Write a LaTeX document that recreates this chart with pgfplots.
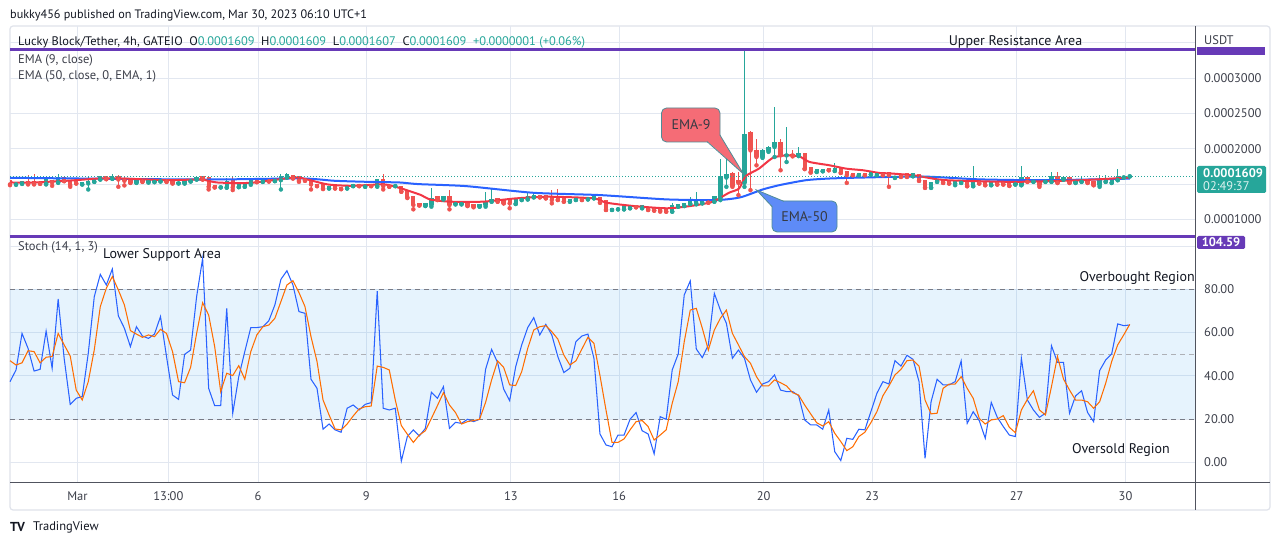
\documentclass[border=0pt]{standalone}
\usepackage{fontspec}
\setmainfont{PT Sans}
\usepackage{pgfplots}
\pgfplotsset{compat=1.18}
\usepackage{pgfplotstable}
\definecolor{tvgreen}{RGB}{38,166,154}
\definecolor{tvred}{RGB}{239,83,80}
\definecolor{emared}{RGB}{242,54,69}
\definecolor{emablue}{RGB}{41,98,255}
\definecolor{dorange}{RGB}{255,109,0}
\definecolor{tvpurple}{RGB}{103,58,183}
\definecolor{gridc}{RGB}{226,231,240}
\definecolor{txt}{RGB}{19,23,34}
\definecolor{axtxt}{RGB}{60,63,74}
\definecolor{bandc}{RGB}{33,150,243}
\definecolor{framec}{RGB}{224,227,235}
\definecolor{sepc}{RGB}{80,83,94}
\definecolor{dashc}{RGB}{120,123,134}
\definecolor{calred}{RGB}{245,108,118}
\definecolor{calblue}{RGB}{94,139,247}
\definecolor{calborder}{RGB}{80,140,150}

\pgfplotstableread{
i bb bt lo hi
2 0.0001493 0.0001521 0.0001488 0.0001530
3 0.0001502 0.0001530 0.0001502 0.0001530
7 0.0001507 0.0001563 0.0001493 0.0001601
9 0.0001521 0.0001592 0.0001516 0.0001639
13 0.0001493 0.0001521 0.0001493 0.0001521
14 0.0001507 0.0001530 0.0001422 0.0001601
15 0.0001530 0.0001563 0.0001530 0.0001563
16 0.0001563 0.0001601 0.0001563 0.0001601
18 0.0001573 0.0001610 0.0001573 0.0001639
22 0.0001516 0.0001554 0.0001516 0.0001554
24 0.0001521 0.0001554 0.0001521 0.0001554
25 0.0001526 0.0001554 0.0001526 0.0001554
26 0.0001535 0.0001563 0.0001535 0.0001563
29 0.0001507 0.0001521 0.0001507 0.0001521
30 0.0001507 0.0001545 0.0001507 0.0001545
31 0.0001535 0.0001563 0.0001535 0.0001563
32 0.0001563 0.0001592 0.0001563 0.0001592
36 0.0001451 0.0001469 0.0001451 0.0001469
37 0.0001451 0.0001530 0.0001446 0.0001578
39 0.0001455 0.0001493 0.0001455 0.0001493
40 0.0001460 0.0001521 0.0001460 0.0001521
41 0.0001507 0.0001545 0.0001488 0.0001563
43 0.0001530 0.0001554 0.0001530 0.0001554
45 0.0001540 0.0001563 0.0001540 0.0001563
46 0.0001554 0.0001601 0.0001422 0.0001648
47 0.0001592 0.0001639 0.0001592 0.0001657
54 0.0001436 0.0001460 0.0001436 0.0001460
57 0.0001436 0.0001483 0.0001436 0.0001483
58 0.0001469 0.0001493 0.0001469 0.0001493
60 0.0001460 0.0001483 0.0001460 0.0001483
62 0.0001469 0.0001563 0.0001460 0.0001573
65 0.0001469 0.0001483 0.0001469 0.0001483
70 0.0001187 0.0001225 0.0001187 0.0001225
71 0.0001202 0.0001296 0.0001178 0.0001436
73 0.0001281 0.0001319 0.0001281 0.0001319
75 0.0001211 0.0001225 0.0001211 0.0001225
76 0.0001211 0.0001234 0.0001211 0.0001234
79 0.0001178 0.0001202 0.0001178 0.0001202
80 0.0001202 0.0001249 0.0001178 0.0001390
81 0.0001249 0.0001281 0.0001249 0.0001436
85 0.0001216 0.0001272 0.0001216 0.0001272
86 0.0001272 0.0001296 0.0001272 0.0001296
87 0.0001281 0.0001319 0.0001281 0.0001366
88 0.0001310 0.0001342 0.0001310 0.0001366
94 0.0001249 0.0001281 0.0001249 0.0001281
95 0.0001272 0.0001296 0.0001272 0.0001296
97 0.0001281 0.0001296 0.0001281 0.0001296
98 0.0001296 0.0001319 0.0001296 0.0001342
101 0.0001131 0.0001155 0.0001131 0.0001155
102 0.0001140 0.0001155 0.0001140 0.0001155
103 0.0001140 0.0001178 0.0001140 0.0001178
104 0.0001155 0.0001187 0.0001155 0.0001187
106 0.0001155 0.0001187 0.0001155 0.0001187
111 0.0001107 0.0001187 0.0001107 0.0001225
112 0.0001178 0.0001202 0.0001178 0.0001202
113 0.0001187 0.0001225 0.0001187 0.0001225
114 0.0001216 0.0001249 0.0001216 0.0001319
115 0.0001225 0.0001272 0.0001211 0.0001390
116 0.0001225 0.0001272 0.0001225 0.0001272
118 0.0001249 0.0001319 0.0001249 0.0001319
119 0.0001295 0.0001600 0.0001271 0.0001858
120 0.0001591 0.0001638 0.0001459 0.0001952
123 0.0001515 0.0002202 0.0001459 0.0003424
126 0.0001882 0.0001976 0.0001870 0.0001990
127 0.0001967 0.0002023 0.0001955 0.0002035
128 0.0002023 0.0002093 0.0001882 0.0002596
130 0.0001905 0.0001920 0.0001811 0.0002314
132 0.0001905 0.0001938 0.0001895 0.0002023
135 0.0001670 0.0001703 0.0001670 0.0001703
136 0.0001680 0.0001708 0.0001680 0.0001708
138 0.0001685 0.0001717 0.0001685 0.0001797
142 0.0001624 0.0001647 0.0001624 0.0001647
144 0.0001633 0.0001656 0.0001633 0.0001656
145 0.0001624 0.0001661 0.0001624 0.0001661
148 0.0001586 0.0001609 0.0001586 0.0001609
151 0.0001609 0.0001647 0.0001609 0.0001647
154 0.0001445 0.0001515 0.0001445 0.0001515
155 0.0001530 0.0001553 0.0001530 0.0001553
158 0.0001506 0.0001530 0.0001482 0.0001530
159 0.0001515 0.0001553 0.0001515 0.0001553
161 0.0001468 0.0001553 0.0001468 0.0001750
164 0.0001482 0.0001530 0.0001482 0.0001530
168 0.0001492 0.0001530 0.0001492 0.0001530
169 0.0001482 0.0001591 0.0001482 0.0001750
171 0.0001530 0.0001553 0.0001530 0.0001553
173 0.0001530 0.0001562 0.0001530 0.0001562
174 0.0001530 0.0001609 0.0001530 0.0001670
176 0.0001562 0.0001591 0.0001562 0.0001591
178 0.0001515 0.0001553 0.0001515 0.0001553
179 0.0001530 0.0001562 0.0001530 0.0001609
182 0.0001482 0.0001562 0.0001459 0.0001624
183 0.0001530 0.0001562 0.0001530 0.0001624
184 0.0001515 0.0001553 0.0001515 0.0001553
185 0.0001553 0.0001609 0.0001553 0.0001717
186 0.0001591 0.0001609 0.0001591 0.0001609
187 0.0001607 0.0001609 0.0001607 0.0001609
}\greentab

\pgfplotstableread{
i bb bt lo hi
1 0.0001493 0.0001554 0.0001483 0.0001563
4 0.0001507 0.0001540 0.0001493 0.0001625
5 0.0001502 0.0001530 0.0001493 0.0001639
6 0.0001502 0.0001521 0.0001502 0.0001521
8 0.0001521 0.0001545 0.0001474 0.0001563
10 0.0001540 0.0001592 0.0001540 0.0001592
11 0.0001483 0.0001545 0.0001460 0.0001554
12 0.0001507 0.0001530 0.0001507 0.0001530
17 0.0001568 0.0001610 0.0001568 0.0001610
19 0.0001563 0.0001610 0.0001460 0.0001625
20 0.0001545 0.0001578 0.0001479 0.0001592
21 0.0001516 0.0001563 0.0001516 0.0001563
23 0.0001530 0.0001554 0.0001530 0.0001554
27 0.0001530 0.0001563 0.0001530 0.0001563
28 0.0001507 0.0001545 0.0001507 0.0001545
33 0.0001563 0.0001601 0.0001563 0.0001601
34 0.0001460 0.0001587 0.0001422 0.0001601
35 0.0001451 0.0001474 0.0001451 0.0001474
38 0.0001451 0.0001554 0.0001413 0.0001601
42 0.0001526 0.0001545 0.0001526 0.0001545
44 0.0001535 0.0001554 0.0001535 0.0001554
48 0.0001578 0.0001625 0.0001578 0.0001625
49 0.0001545 0.0001601 0.0001530 0.0001610
50 0.0001545 0.0001563 0.0001545 0.0001563
51 0.0001493 0.0001563 0.0001422 0.0001573
52 0.0001469 0.0001498 0.0001469 0.0001498
53 0.0001436 0.0001507 0.0001427 0.0001516
55 0.0001436 0.0001460 0.0001436 0.0001460
56 0.0001427 0.0001451 0.0001427 0.0001451
59 0.0001469 0.0001493 0.0001469 0.0001493
61 0.0001469 0.0001493 0.0001469 0.0001493
63 0.0001469 0.0001568 0.0001422 0.0001648
64 0.0001460 0.0001483 0.0001460 0.0001483
66 0.0001390 0.0001470 0.0001390 0.0001470
67 0.0001310 0.0001404 0.0001300 0.0001410
68 0.0001202 0.0001319 0.0001140 0.0001328
69 0.0001195 0.0001225 0.0001195 0.0001225
72 0.0001272 0.0001319 0.0001272 0.0001319
74 0.0001202 0.0001319 0.0001140 0.0001413
77 0.0001187 0.0001234 0.0001187 0.0001234
78 0.0001178 0.0001202 0.0001169 0.0001202
82 0.0001249 0.0001296 0.0001249 0.0001296
83 0.0001225 0.0001272 0.0001225 0.0001272
84 0.0001225 0.0001263 0.0001155 0.0001263
89 0.0001310 0.0001342 0.0001310 0.0001342
90 0.0001296 0.0001342 0.0001296 0.0001342
91 0.0001272 0.0001328 0.0001225 0.0001413
92 0.0001272 0.0001319 0.0001272 0.0001422
93 0.0001249 0.0001296 0.0001249 0.0001296
96 0.0001272 0.0001296 0.0001272 0.0001296
99 0.0001234 0.0001305 0.0001234 0.0001305
100 0.0001131 0.0001263 0.0001131 0.0001263
105 0.0001169 0.0001187 0.0001169 0.0001187
107 0.0001131 0.0001169 0.0001131 0.0001169
108 0.0001122 0.0001155 0.0001122 0.0001155
109 0.0001122 0.0001155 0.0001107 0.0001178
110 0.0001107 0.0001140 0.0001107 0.0001140
117 0.0001234 0.0001281 0.0001234 0.0001281
121 0.0001473 0.0001647 0.0001459 0.0001670
122 0.0001515 0.0001544 0.0001341 0.0001670
124 0.0001976 0.0002234 0.0001412 0.0002258
125 0.0001882 0.0001967 0.0001764 0.0002140
129 0.0001905 0.0002093 0.0001694 0.0002140
131 0.0001905 0.0001920 0.0001891 0.0001976
133 0.0001717 0.0001929 0.0001710 0.0001935
134 0.0001670 0.0001727 0.0001660 0.0001735
137 0.0001694 0.0001717 0.0001694 0.0001717
139 0.0001656 0.0001717 0.0001656 0.0001717
140 0.0001624 0.0001670 0.0001515 0.0001670
141 0.0001624 0.0001647 0.0001624 0.0001647
143 0.0001624 0.0001647 0.0001624 0.0001647
146 0.0001624 0.0001656 0.0001624 0.0001656
147 0.0001624 0.0001661 0.0001459 0.0001661
149 0.0001600 0.0001624 0.0001600 0.0001624
150 0.0001600 0.0001647 0.0001600 0.0001647
152 0.0001544 0.0001633 0.0001544 0.0001633
153 0.0001445 0.0001553 0.0001445 0.0001553
156 0.0001515 0.0001562 0.0001515 0.0001562
157 0.0001506 0.0001544 0.0001506 0.0001544
160 0.0001468 0.0001553 0.0001468 0.0001553
162 0.0001506 0.0001553 0.0001506 0.0001553
163 0.0001482 0.0001530 0.0001482 0.0001530
165 0.0001492 0.0001530 0.0001492 0.0001530
166 0.0001492 0.0001530 0.0001492 0.0001530
167 0.0001473 0.0001530 0.0001473 0.0001530
170 0.0001530 0.0001591 0.0001530 0.0001591
172 0.0001482 0.0001544 0.0001459 0.0001544
175 0.0001515 0.0001600 0.0001515 0.0001670
177 0.0001515 0.0001591 0.0001515 0.0001591
180 0.0001515 0.0001553 0.0001515 0.0001553
181 0.0001482 0.0001530 0.0001482 0.0001530
}\redtab

\pgfplotstableread{
i ema
1 0.0001521
4.9 0.0001521
10.4 0.0001545
16 0.0001578
19.3 0.0001578
27.1 0.0001554
32.7 0.0001563
35.4 0.0001521
41 0.0001516
48.2 0.0001592
50.4 0.0001563
53.8 0.0001493
57.7 0.0001474
63.2 0.0001493
66 0.0001436
69.3 0.0001342
70.7 0.0001281
74 0.0001249
79.6 0.0001249
85.1 0.0001296
90.7 0.0001319
97.9 0.0001296
100.1 0.0001234
104.6 0.0001187
110.1 0.0001155
114 0.0001187
117.7 0.0001247
120.4 0.0001374
122.1 0.0001435
123.2 0.0001610
125.4 0.0001717
127.7 0.0001870
129.9 0.0001905
132.1 0.0001891
133.8 0.0001812
137.1 0.0001765
139.9 0.0001717
142.7 0.0001694
145.4 0.0001656
147.1 0.0001650
151 0.0001624
152.7 0.0001600
156.6 0.0001553
167.7 0.0001530
178.8 0.0001553
187 0.0001591
}\emanine

\pgfplotstableread{
i ema
1 0.0001587
32.7 0.0001563
49.3 0.0001578
54.9 0.0001545
60.4 0.0001530
65.7 0.0001521
68.8 0.0001498
76.8 0.0001469
87.9 0.0001375
99 0.0001342
110.1 0.0001281
118.4 0.0001272
122.3 0.0001310
126 0.0001421
128.8 0.0001483
133.2 0.0001553
137.1 0.0001577
142.7 0.0001591
152.7 0.0001605
162.1 0.0001565
173.2 0.0001553
187 0.0001576
}\emafifty

\pgfplotstableread{
i k d
1 37.3 47
2 42.7 45
3 59.6 46
4 52.7 51.6
5 42.2 51.2
6 43 46
7 60.7 48.6
8 43.5 48.9
9 75.5 59.6
10 48 54.3
11 26.8 49.2
12 29.6 33.4
13 30.4 28.8
14 50.4 37.3
15 76.6 52
16 86.9 72
17 82 80.5
18 89.4 85.9
19 67.7 79.7
20 62 72.8
21 53.5 60.9
22 62.7 59.3
23 58.4 57.8
24 57.3 58.9
25 59.3 58.1
26 67.4 61.5
27 48.9 59.6
28 31.1 51.2
29 29.1 37.3
30 49.9 36.8
31 51.9 43.9
32 76.6 59.6
33 94.3 73.8
34 34.2 68.1
35 26.2 53.5
36 26.2 32.7
37 71.2 41.2
38 22.7 40.1
39 39.6 44.7
40 51.2 38.4
41 62.3 51.2
42 62.3 58.9
43 62.7 62.7
44 65.5 63.5
45 72.8 66.6
46 84.6 74.3
47 88.6 82
48 82 84
49 69.7 78.5
50 68.9 72
51 38.4 58.1
52 34.2 46.6
53 15.3 28.8
54 17.7 21.9
55 15 15.4
56 13.9 15
57 25 17.7
58 26.5 21.4
59 24.2 24.7
60 26.8 25.7
61 27.6 26
62 79.2 44.5
63 25 43.9
64 24.2 42.7
65 25 28.8
66 0.5 17
67 11.9 13
68 15 9.2
69 12.2 12.6
70 15.7 14.6
71 32.4 20.3
72 29.6 26.2
73 35 32.2
74 15.7 26.5
75 18.5 23
76 18 17.7
77 19.9 18.8
78 18.8 19.3
79 19.9 19.9
80 43 27.7
81 52.2 38.1
82 46.1 46.9
83 33.9 43.9
84 28.5 35.8
85 44.2 35.5
86 54.3 41.9
87 62.3 52.7
88 66.9 61.2
89 58.9 62.7
90 63.8 63.2
91 58.9 60.4
92 48.9 57
93 41.5 49.6
94 43.5 45
95 55.8 46.9
96 58.4 52.4
97 59.3 57.8
98 48.1 55
99 13.1 40.1
100 8 24.2
101 7.2 9.2
102 12.6 9.2
103 12.6 10.8
104 19.9 15
105 23 18.8
106 14.6 19.3
107 13.1 16.5
108 3.9 10.3
109 21.1 12.6
110 19.9 15
111 42.7 27.3
112 50.1 37.3
113 77.4 55.8
114 83.9 70.4
115 52.4 71.2
116 48.4 62
117 54.3 51.9
118 78.1 61.2
119 70.4 66.6
120 64.3 70.4
121 48.1 59.6
122 51.9 54.3
123 48.1 48.9
124 38.1 45.8
125 32.4 39.6
126 36.2 35.3
127 37.3 35.3
128 40.4 38.1
129 33.4 36.8
130 32.7 35.3
131 32.7 32.2
132 30.8 31.1
133 19.6 26.5
134 17.3 22.4
135 17.3 18.3
136 15.3 16.8
137 24.2 18.8
138 4.9 13.4
139 0.8 9.6
140 11.1 5.4
141 10.6 7.2
142 15.3 11.9
143 15 13.9
144 23.4 18.3
145 31.9 23.4
146 37.3 30.8
147 36.2 35.3
148 47 40.4
149 44.5 43
150 49.5 47
151 47.6 47.3
152 37.3 44.5
153 1.8 28.8
154 28 22.4
155 38.4 22.7
156 35.8 34.2
157 35.8 36.2
158 37.3 36.2
159 46.9 39.6
160 18 34.2
161 23.4 29.6
162 19.3 20.3
163 11.1 17.7
164 27.7 19.6
165 20.8 20
166 16.5 21.6
167 12.6 16.2
168 11.9 13.7
169 48.1 24.2
170 28.8 29.1
171 24.2 33.1
172 20.8 24.2
173 22.7 21.9
174 53.9 35
175 46.2 48.9
176 46.2 38.5
177 22.7 33.4
178 30.7 28.8
179 33.1 28.8
180 23 28
181 18.8 25
182 42.4 28
183 47.3 36.5
184 50.1 46.6
185 64 54.3
186 63.2 58.9
187 63.5 63.8
}\stochtab

\newcommand{\fs}[1]{\fontsize{#1}{#1}\selectfont}

\begin{document}
\begin{tikzpicture}[x=1pt,y=1pt]
\fill[white] (0,0) rectangle (1280,546);
\useasboundingbox (0,0) rectangle (1280,546);

% header
\node[anchor=west, inner sep=0pt, text=txt, font=\fs{12.2}] at (10,531) {bukky456 published on TradingView.com, Mar 30, 2023 06:10 UTC+1};

% chart frame
\draw[framec, line width=1.2pt, rounded corners=3pt] (10,36) rectangle (1270,520);

\pgfplotsset{
  tvbase/.style={
    scale only axis, width=1185pt, anchor=south west,
    xmin=1, xmax=197.84,
    axis line style={draw=none},
    tick style={draw=none},
    major tick length=0pt,
    scaled y ticks=false, scaled x ticks=false,
    grid=major,
    major grid style={gridc, line width=0.9pt},
    xtick={12.2,27.3,42.2,60.2,84.2,102.2,126.2,144.2,168.2,186.3},
    yticklabel pos=right,
    yticklabel style={anchor=west, inner sep=0pt, xshift=9pt, text=axtxt, font=\fs{12.5}},
  }
}

% ---------------- price pane ----------------
\begin{axis}[tvbase, at={(10pt,310pt)}, height=210pt,
  ymin=0.0000762, ymax=0.0003740,
  xticklabels={},
  ytick={0.0001,0.00015,0.0002,0.00025,0.0003,0.00035},
  yticklabels={0.0001000,{},0.0002000,0.0002500,0.0003000,{}},
  ]
  % wicks
  \addplot[tvgreen, only marks, mark=none, forget plot,
    error bars/.cd, y dir=plus, y explicit, error mark=none,
    error bar style={line width=1pt}]
    table[x=i, y=lo, y error expr=\thisrow{hi}-\thisrow{lo}] {\greentab};
  \addplot[tvred, only marks, mark=none, forget plot,
    error bars/.cd, y dir=plus, y explicit, error mark=none,
    error bar style={line width=1pt}]
    table[x=i, y=lo, y error expr=\thisrow{hi}-\thisrow{lo}] {\redtab};
  % bodies
  \addplot[tvgreen, only marks, mark=none, forget plot,
    error bars/.cd, y dir=plus, y explicit, error mark=none,
    error bar style={line width=4.3pt}]
    table[x=i, y=bb, y error expr=\thisrow{bt}-\thisrow{bb}+0.0000008] {\greentab};
  \addplot[tvred, only marks, mark=none, forget plot,
    error bars/.cd, y dir=plus, y explicit, error mark=none,
    error bar style={line width=4.3pt}]
    table[x=i, y=bb, y error expr=\thisrow{bt}-\thisrow{bb}+0.0000008] {\redtab};
  % EMAs
  \addplot[emablue, line width=2pt, smooth, tension=0.4] table[x=i, y=ema] {\emafifty};
  \addplot[emared, line width=2pt, smooth, tension=0.4] table[x=i, y=ema] {\emanine};
  % current price line
  \addplot[tvgreen, line width=0.9pt, dash pattern=on 1pt off 2pt] coordinates {(1,0.0001609) (197.84,0.0001609)};
  % upper resistance line
  \addplot[tvpurple, line width=3pt] coordinates {(1,0.000341) (197.84,0.000341)};
\end{axis}

% ---------------- stochastic pane ----------------
\begin{axis}[tvbase, at={(10pt,64pt)}, height=246pt,
  ymin=-9.11, ymax=104.66, clip=false,
  xticklabels={Mar,13:00,6,9,13,16,20,23,27,30},
  xticklabel style={anchor=base, inner sep=0pt, yshift=-19pt, text=axtxt, font=\fs{12.5}},
  ytick={0,20,40,60,80,100},
  yticklabels={0.00,20.00,40.00,60.00,80.00,{}},
  ]
  \addplot[draw=none, fill=bandc, fill opacity=0.11] coordinates {(1,20) (197.84,20) (197.84,80) (1,80)} -- cycle;
  \addplot[dashc, line width=0.9pt, dash pattern=on 5pt off 4pt] coordinates {(1,80) (197.84,80)};
  \addplot[dashc!60, line width=0.9pt, dash pattern=on 5pt off 4pt] coordinates {(1,50) (197.84,50)};
  \addplot[dashc, line width=0.9pt, dash pattern=on 5pt off 4pt] coordinates {(1,20) (197.84,20)};
  \addplot[emablue, line width=1.05pt] table[x=i, y=k] {\stochtab};
  \addplot[dorange, line width=1.05pt] table[x=i, y=d] {\stochtab};
  \addplot[tvpurple, line width=3pt] coordinates {(1,104.59) (197.84,104.59)};
\end{axis}

% separators
\draw[sepc, line width=1pt] (1195,36) -- (1195,520);
\draw[sepc, line width=1pt] (10,63) -- (1270,63);

% legend texts
\node[anchor=west, inner sep=0pt, font=\fs{12.4}] at (18,503.5) {\textcolor{txt}{Lucky Block/Tether, 4h, GATEIO\ \ O}\textcolor{tvgreen}{0.0001609}\ \ \textcolor{txt}{H}\textcolor{tvgreen}{0.0001609}\ \ \textcolor{txt}{L}\textcolor{tvgreen}{0.0001607}\ \ \textcolor{txt}{C}\textcolor{tvgreen}{0.0001609}\ \ \textcolor{tvgreen}{+0.0000001 (+0.06\%)}};
\node[anchor=west, inner sep=0pt, text=axtxt, font=\fs{12.5}] at (18,486) {EMA (9, close)};
\node[anchor=west, inner sep=0pt, text=axtxt, font=\fs{12.5}] at (18,469.5) {EMA (50, close, 0, EMA, 1)};
\node[anchor=west, inner sep=0pt, text=axtxt, font=\fs{12.5}] at (18,299) {Stoch (14, 1, 3)};

% drawing labels
\node[inner sep=0pt, text=txt, font=\fs{14}] at (1015.5,504) {Upper Resistance Area};
\node[anchor=west, inner sep=0pt, text=txt, font=\fs{14}] at (103,291) {Lower Support Area};
\node[anchor=east, inner sep=0pt, text=txt, font=\fs{14}] at (1195,268) {Overbought Region};
\node[anchor=west, inner sep=0pt, text=txt, font=\fs{14}] at (1072,96) {Oversold Region};

% price scale extras
\fill[tvpurple] (1197,491) rectangle (1265,499);
\fill[white] (1197,499) rectangle (1268,518);
\node[anchor=west, inner sep=0pt, text=axtxt, font=\fs{12.5}] at (1204,506) {USDT};
\fill[tvgreen, rounded corners=1.5pt] (1197,353) rectangle (1266,380);
\node[anchor=west, inner sep=0pt, text=white, font=\bfseries\fs{12.5}] at (1203,373) {0.0001609};
\node[anchor=west, inner sep=0pt, text=white!85!tvgreen, font=\fs{12.5}] at (1203,360) {02:49:37};
\fill[tvpurple, rounded corners=1.5pt] (1197,297) rectangle (1245,310);
\node[inner sep=0pt, text=white, font=\bfseries\fs{12.5}] at (1221,303.5) {104.59};

% callouts
\filldraw[fill=calred, draw=calborder, line width=0.8pt, rounded corners=5pt] (661.5,404) rectangle (720,438);
\fill[calred] (707,405) -- (743.5,372) -- (719.3,412) -- cycle;
\draw[calborder, line width=0.8pt] (707,404.4) -- (743.5,372) -- (719.6,411.5);
\node[inner sep=0pt, text=txt!85, font=\fs{14}] at (691,421) {EMA-9};
\filldraw[fill=calblue, draw=calborder, line width=0.8pt, rounded corners=5pt] (772,314) rectangle (837,345);
\fill[calblue] (772.4,339) -- (756.5,356) -- (784,344.6) -- cycle;
\draw[calborder, line width=0.8pt] (772.4,339) -- (756.5,356) -- (784,344.6);
\node[inner sep=0pt, text=txt!85, font=\fs{14}] at (804.5,329.5) {EMA-50};

% footer logo
\node[anchor=west, inner sep=0pt, text=txt, font=\bfseries\fs{13}] at (10,19) {TV};
\node[anchor=west, inner sep=0pt, text=txt, font=\fs{12.5}] at (33,19) {TradingView};
\end{tikzpicture}
\end{document}
